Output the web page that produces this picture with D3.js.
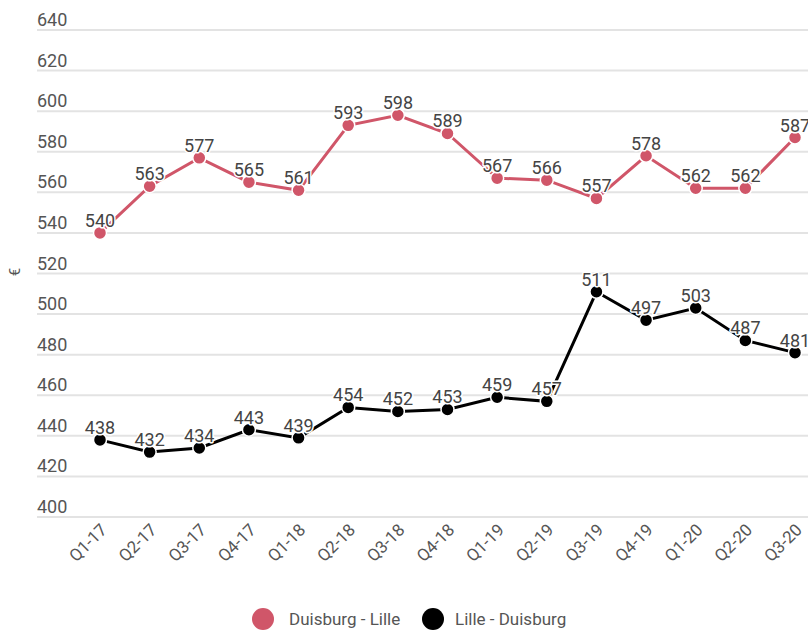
<!DOCTYPE html>
<html><head><meta charset="utf-8">
<script src="https://cdn.jsdelivr.net/npm/d3@7"></script>
<style>
body{margin:0;background:#fff;}
svg{display:block;font-family:Roboto,"Noto Sans",sans-serif;}
</style></head>
<body><svg id="c" width="808" height="632"></svg>
<script>
const categories = ["Q1-17","Q2-17","Q3-17","Q4-17","Q1-18","Q2-18","Q3-18","Q4-18","Q1-19","Q2-19","Q3-19","Q4-19","Q1-20","Q2-20","Q3-20"];
const duisburgLille = [540,563,577,565,561,593,598,589,567,566,557,578,562,562,587];
const lilleDuisburg = [438,432,434,443,439,454,452,453,459,457,511,497,503,487,481];
const seriesNames = ["Duisburg - Lille","Lille - Duisburg"];
const seriesColors = ["#d05669","#000000"];
const yTicks = [400,420,440,460,480,500,520,540,560,580,600,620,640];
const yLabel = "€";

const svg = d3.select("#c");
const x = d3.scalePoint().domain(categories).range([100,795]);
const y = d3.scaleLinear().domain([400,640]).range([517,30]);

const g = svg.append("g");
g.selectAll("line.grid").data(yTicks).enter().append("line")
  .attr("x1",37).attr("x2",808)
  .attr("y1",d=>y(d)).attr("y2",d=>y(d))
  .attr("stroke","#e3e3e3").attr("stroke-width",2);
g.selectAll("text.yt").data(yTicks).enter().append("text")
  .attr("x",37).attr("y",d=>y(d)-4)
  .attr("font-size",18).attr("fill","#555")
  .text(d=>d);

svg.append("text").attr("transform","translate(20,272) rotate(-90)")
  .attr("text-anchor","middle").attr("font-size",15).attr("fill","#555").text(yLabel);

svg.selectAll("text.xt").data(categories).enter().append("text")
  .attr("transform",d=>`translate(${x(d)+8},${531}) rotate(-45)`)
  .attr("text-anchor","end").attr("font-size",17).attr("fill","#555")
  .text(d=>d);

const series = [duisburgLille, lilleDuisburg];
const line = d3.line().x((d,i)=>x(categories[i])).y(d=>y(d));
series.forEach((vals,si)=>{
  const col = seriesColors[si];
  svg.append("path").datum(vals).attr("d",line)
    .attr("fill","none").attr("stroke",col).attr("stroke-width",3);
  svg.append("g").selectAll("circle").data(vals).enter().append("circle")
    .attr("cx",(d,i)=>x(categories[i])).attr("cy",d=>y(d)).attr("r",6.5)
    .attr("fill",col).attr("stroke","#fff").attr("stroke-width",1.5);
  svg.append("g").selectAll("text").data(vals).enter().append("text")
    .attr("x",(d,i)=>x(categories[i])).attr("y",d=>y(d)-6)
    .attr("text-anchor","middle").attr("font-size",18).attr("fill","#444")
    .attr("stroke","#fff").attr("stroke-width",3).attr("paint-order","stroke")
    .attr("stroke-linejoin","round")
    .text(d=>d);
});

const leg = [{cx:263,tx:289},{cx:433,tx:455}];
leg.forEach((l,i)=>{
  svg.append("circle").attr("cx",l.cx).attr("cy",619).attr("r",11).attr("fill",seriesColors[i]);
  svg.append("text").attr("x",l.tx).attr("y",625).attr("font-size",17).attr("fill","#555").text(seriesNames[i]);
});
</script></body></html>
